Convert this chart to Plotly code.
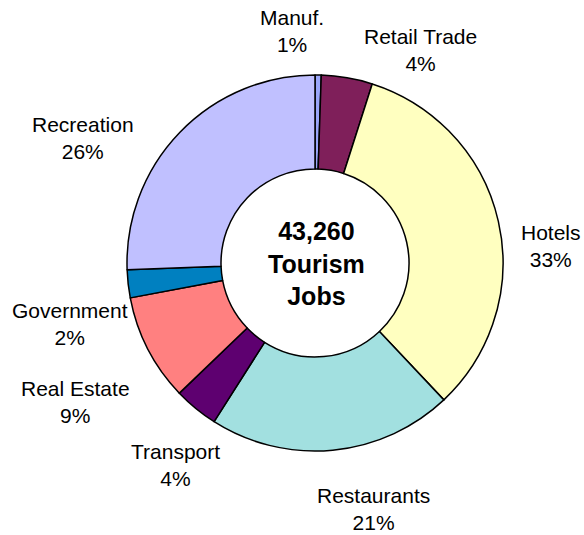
import plotly.graph_objects as go

# Tourism employment by sector
sectors = ["Manuf.", "Retail Trade", "Hotels", "Restaurants", "Transport",
           "Real Estate", "Government", "Recreation"]
jobs = [230, 1900, 14300, 9100, 1650, 3980, 1040, 11060]
colors = ["#9AA6FA", "#7F1F5A", "#FFFFC0", "#A2E0E0", "#5E0070",
          "#FF8080", "#0080C0", "#C0C0FF"]

# Label block centres (pixels in a 584x535 canvas)
label_pos = [(292, 31), (420, 50), (551, 246), (373, 509), (175, 465),
             (75, 402), (70, 324), (83, 138)]

W, H = 584, 535
total = sum(jobs)

fig = go.Figure(go.Pie(
    labels=sectors,
    values=jobs,
    hole=0.5,
    sort=False,
    direction="clockwise",
    rotation=0,
    marker=dict(colors=colors, line=dict(color="black", width=1.5)),
    textinfo="none",
    hoverinfo="label+percent",
    domain=dict(x=[(315 - 188) / W, (315 + 188) / W],
                y=[1 - 451 / H, 1 - 75 / H]),
    showlegend=False,
))

font = dict(family="Arial, Liberation Sans, sans-serif", size=21, color="black")
for name, v, (px, py) in zip(sectors, jobs, label_pos):
    pct = round(v / total * 100)
    fig.add_annotation(
        x=px / W, y=1 - py / H, xref="paper", yref="paper",
        text=f"{name}<br>{pct}%", showarrow=False,
        xanchor="center", yanchor="middle", font=font,
    )

fig.add_annotation(
    x=316 / W, y=1 - 263 / H, xref="paper", yref="paper",
    text=f"<b>{total:,}<br>Tourism<br>Jobs</b>", showarrow=False,
    xanchor="center", yanchor="middle",
    font=dict(family="Arial, Liberation Sans, sans-serif", size=25, color="black"),
)

fig.update_layout(
    width=W, height=H,
    margin=dict(l=0, r=0, t=0, b=0),
    paper_bgcolor="white", plot_bgcolor="white",
)

fig.write_html("out.html")
